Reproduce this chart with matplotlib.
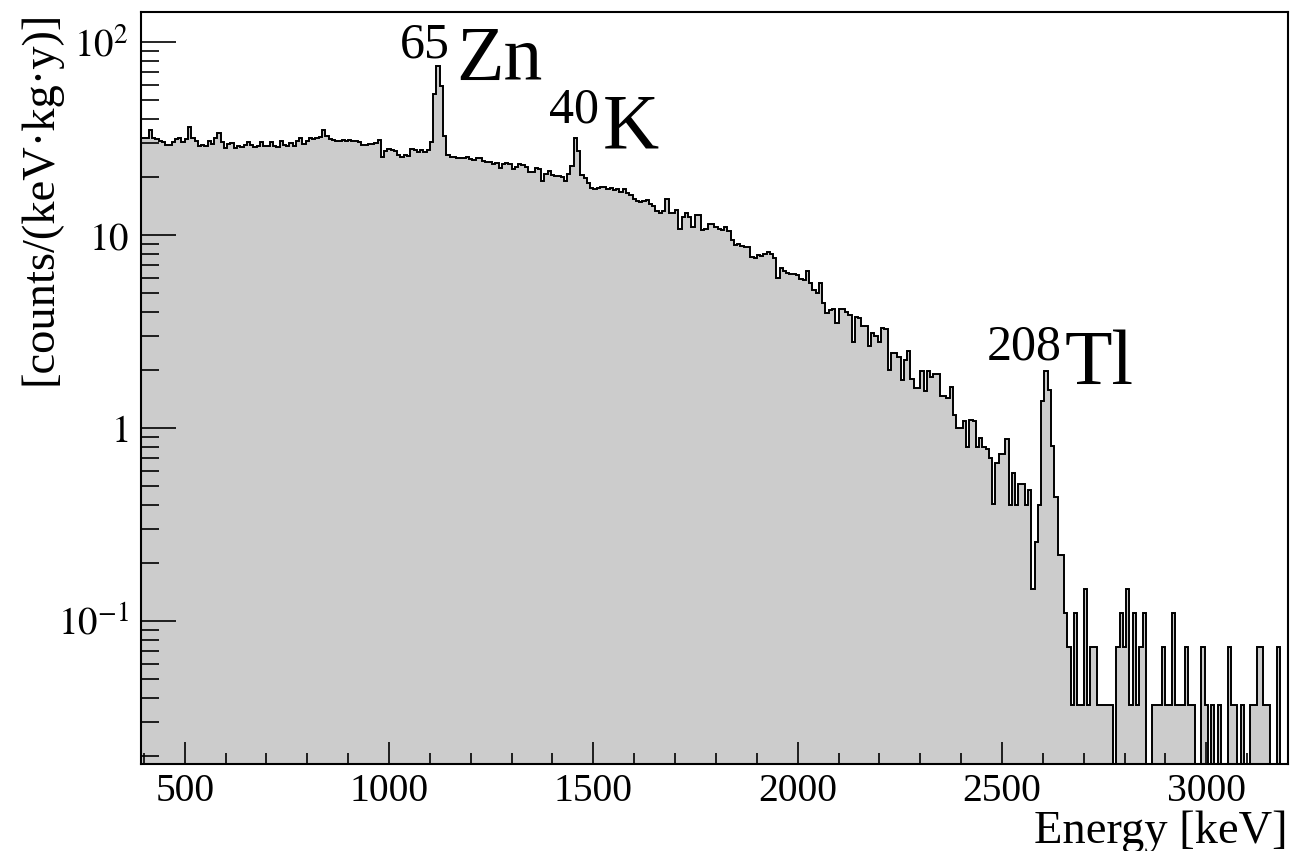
import matplotlib
matplotlib.use("Agg")
import matplotlib.pyplot as plt
import numpy as np
from matplotlib.ticker import FixedLocator, LogLocator, MultipleLocator, NullFormatter

plt.rcParams['font.family'] = ['Liberation Serif', 'DejaVu Serif']
plt.rcParams['mathtext.fontset'] = 'stix'

# Histogram binning (keV): 8 keV bins starting at 388 keV
first_edge = 388
bin_width = 8

# Rate in counts/(keV kg y), read bin by bin off the plot
rate_400_820 = [32, 32, 32, 35, 32, 31.4, 30.8, 30.3, 29.5, 29.5,
                30.5, 31.4, 31.8, 30.6, 31.4, 36.6, 32, 30.8, 28.9, 29.5,
                28.9, 30.8, 29.7, 31.8, 34, 30.3, 28.3, 29.8, 30, 28.5,
                29.2, 28.7, 29.5, 30.3, 29.5, 28.7, 29.2, 30.3, 29, 29.2,
                30.5, 29.2, 28.8, 31, 29.5, 29, 30, 29.2, 31, 32,
                29.8, 30.8, 32, 31.5]
rate_820_1240 = [32, 32.5, 35.3, 32.8, 31.7, 31.3, 30.7, 30.9, 31.3,
                 30.7, 31.3, 31, 30.7, 30.3, 29.4, 29.5, 29.6, 29.7, 30,
                 31.2, 25.4, 27.3, 28, 27.8, 27.2, 26, 25.6, 26, 25.8,
                 28, 27.8, 27, 27.6, 27, 27.6, 30.5, 53.9, 75.7, 59.6,
                 32.8, 26.1, 25.6, 25.5, 25.3, 25.2, 25.3, 25.4, 24.9, 24.7,
                 25.2, 25.3, 24.4, 23.9]
rate_1240_1660 = [23.9, 23.5, 23.7, 22.4, 23.3, 23.6, 23.5, 22, 22.5, 23.4,
                  23.2, 22.6, 21.4, 21.3, 22.3, 22, 19.2, 20.7, 21.5, 20.5,
                  20.3, 20.2, 20, 19.2, 20.8, 22.8, 32, 27.5, 20.6, 19.8,
                  18.7, 17.6, 17.3, 17.5, 17.7, 17.7, 17.4, 17.6, 17.1, 17.3,
                  16.8, 17.4, 16.6, 16.1, 15.4, 15.1, 14.8, 15.0, 15.2, 14.6,
                  14.2, 13.3]
rate_1660_2020 = [13.0, 13.3, 15.4, 13.0, 13.1, 13.5, 10.8, 12.4, 13.1, 12.5,
                  11.1, 12.8, 12.8, 10.6, 10.8, 11.4, 11.4, 11.0, 10.8, 10.7,
                  11.0, 10.5, 9.4, 8.9, 9.0, 8.8, 8.7, 8.7, 7.7, 7.6,
                  7.9, 7.8, 8.0, 8.15, 8.0, 7.6, 6.0, 6.8, 6.5, 6.4,
                  6.3, 6.3, 6.2, 5.9, 5.85]
rate_2020_2492 = [6.5, 5.65, 5.2, 5.0, 5.65, 4.45, 3.95, 4.1, 4.15, 3.5,
                  4.15, 4.15, 4.0, 3.85, 2.81, 3.75, 3.7, 3.4, 3.4, 2.65,
                  3.1, 3.0, 2.8, 3.3, 3.25, 2.0, 2.45, 2.45, 2.35, 1.77,
                  2.25, 2.5, 1.8, 1.61, 1.61, 1.97, 1.55, 1.97, 1.85, 1.9,
                  1.9, 1.47, 1.47, 1.43, 1.64, 1.17, 1.0, 1.0, 1.09, 0.80,
                  1.10, 1.09, 0.80, 0.89, 0.80, 0.78, 0.70, 0.405, 0.66]
rate_2492_2652 = [0.73, 0.73, 0.876, 0.40, 0.584, 0.40, 0.511, 0.511, 0.40, 0.475,
                  0.146, 0.256, 0.40, 1.387, 1.971, 1.57, 0.803, 0.438, 0.219, 0.219]
rate_2652_3204 = [0.11, 0.073, 0.0365, 0.11, 0.0365, 0.0365, 0.146, 0.0365, 0.073, 0.073,
                  0.0365, 0.0365, 0.0365, 0.0365, 0.0365, 0, 0.073, 0.11, 0.073, 0.146,
                  0.0365, 0.11, 0.0365, 0.073, 0.11, 0, 0, 0.0365, 0.0365, 0.0365,
                  0.073, 0.0365, 0.0365, 0.11, 0.0365, 0.0365, 0.0365, 0.073, 0.0365, 0.0365,
                  0, 0, 0.073, 0.0365, 0, 0.0365, 0, 0.0365, 0, 0,
                  0.073, 0.0365, 0.0365, 0, 0.0365, 0, 0, 0.0365, 0.0365, 0.073,
                  0.073, 0.0365, 0.0365, 0, 0, 0.073, 0, 0, 0]

# Peak labels: (mass number, element, left energy of superscript, sup baseline,
#               left energy of symbol, symbol baseline)
peak_labels = [("65", "Zn", 1027, 83.8, 1164, 64.2),
               ("40", "K", 1391, 38.4, 1523, 28.5),
               ("208", "Tl", 2463, 2.26, 2654, 1.70)]

rate = np.array(rate_400_820 + rate_820_1240 + rate_1240_1660 + rate_1660_2020
                + rate_2020_2492 + rate_2492_2652 + rate_2652_3204)
edges = first_edge + bin_width * np.arange(len(rate) + 1)

# empty bins drop to the bottom of the frame like in ROOT
floor = 1e-4
drawn = np.where(rate > 0, rate, floor)

fig = plt.figure(figsize=(12.94, 8.51), dpi=100)
ax = fig.add_axes([141 / 1294, 87.5 / 851, 1147 / 1294, 751 / 851])

ax.stairs(drawn, edges, baseline=floor, fill=True, color='#cccccc', lw=0)
ax.stairs(drawn, edges, baseline=floor, color='black', lw=1.4)

ax.set_yscale('log')
ax.set_xlim(393, 3200)
ax.set_ylim(0.0182, 143)

# x axis ticks
ax.xaxis.set_major_locator(FixedLocator([500, 1000, 1500, 2000, 2500, 3000]))
ax.xaxis.set_minor_locator(MultipleLocator(100))
ax.tick_params(axis='x', which='major', direction='in', length=16, width=1.2,
               labelsize=28.5, pad=7, top=False)
ax.tick_params(axis='x', which='minor', direction='in', length=8, width=1.2, top=False)

# y axis ticks
ax.yaxis.set_major_locator(FixedLocator([0.1, 1, 10, 100]))
ax.set_yticklabels([r'$10^{-1}$', r'$1$', r'$10$', r'$10^{2}$'])
ax.yaxis.set_minor_locator(LogLocator(base=10, subs=np.arange(2, 10)))
ax.yaxis.set_minor_formatter(NullFormatter())
ax.tick_params(axis='y', which='major', direction='in', length=25, width=1.2,
               labelsize=28, pad=9, right=False)
ax.tick_params(axis='y', which='minor', direction='in', length=13, width=1.2, right=False)

for spine in ax.spines.values():
    spine.set_linewidth(1.5)
    spine.set_color('black')

ax.set_ylabel('[counts/(keV\u00b7kg\u00b7y)]', fontsize=33.5, loc='top')
ax.yaxis.set_label_coords(-0.069, 1.003)
ax.set_xlabel('Energy [keV]', fontsize=33.5, loc='right')
ax.xaxis.set_label_coords(1.0, -0.063)

for mass, element, e_sup, y_sup, e_sym, y_sym in peak_labels:
    ax.text(e_sup, y_sup, mass, fontsize=36, ha='left', va='baseline')
    ax.text(e_sym, y_sym, element, fontsize=56, ha='left', va='baseline')

fig.savefig('out.png', dpi=100)
